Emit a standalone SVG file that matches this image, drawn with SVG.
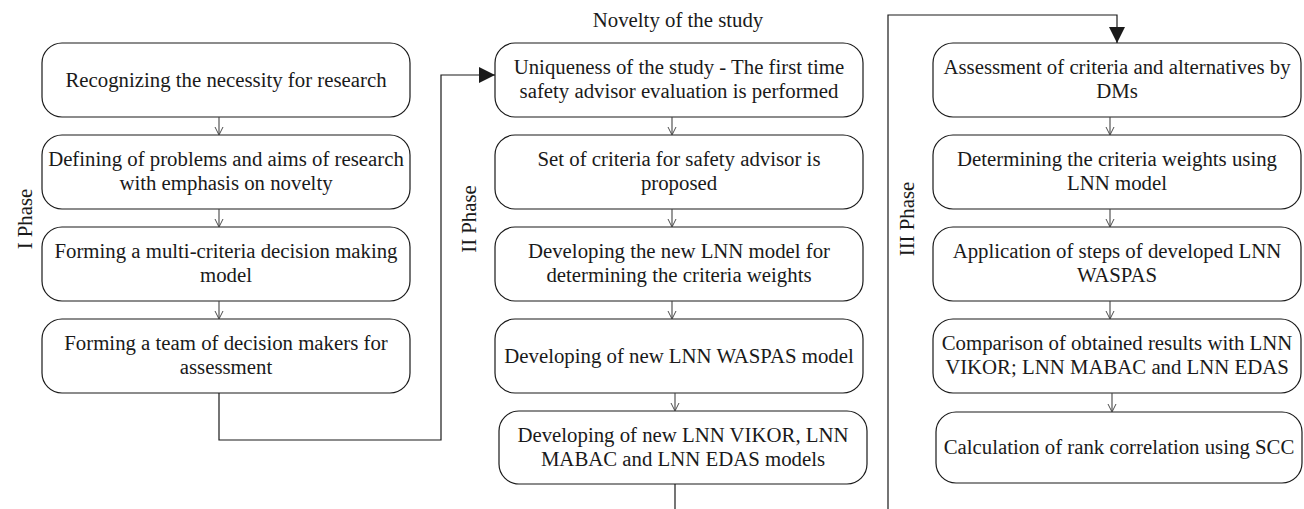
<svg xmlns="http://www.w3.org/2000/svg" width="1304" height="509" viewBox="0 0 1304 509" font-family="'Liberation Serif', 'Times New Roman', serif" font-size="20">
  <style>
    .nd { fill: #ffffff; stroke: #1a1a1a; stroke-width: 1.2; }
    .t { font-family: "Liberation Serif", "Times New Roman", serif; font-size: 20.8px; fill: #1a1a1a; text-anchor: middle; }
    .step { stroke: #444; stroke-width: 1.1; fill: none; }
    .link { stroke: #1a1a1a; stroke-width: 1.2; fill: none; }
  </style>
  <defs>
    <marker id="open" viewBox="0 0 10 10" refX="10" refY="5" markerUnits="userSpaceOnUse" markerWidth="8" markerHeight="14" orient="auto">
      <path d="M0,0 L10,5 L0,10" fill="none" stroke="#444" stroke-width="1.2"/>
    </marker>
    <marker id="solid" viewBox="0 0 10 10" refX="10" refY="5" markerUnits="userSpaceOnUse" markerWidth="22" markerHeight="16" orient="auto">
      <path d="M0,0 L10,5 L0,10 Z" fill="#1a1a1a"/>
    </marker>
  </defs>

  <text id="title" class="t" x="678" y="27">Novelty of the study</text>

  <g id="labels">
    <text transform="translate(32,219) rotate(-90)" class="t">I Phase</text>
    <text transform="translate(476,219) rotate(-90)" class="t">II Phase</text>
    <text transform="translate(914,219) rotate(-90)" class="t">III Phase</text>
  </g>

  <!-- Phase I -->
  <g id="p1n1"><rect class="nd" x="42" y="43" width="368" height="74" rx="20"/>
    <text class="t" x="226" y="87">Recognizing the necessity for research</text></g>
  <g id="p1n2"><rect class="nd" x="42" y="135" width="368" height="74" rx="20"/>
    <text class="t" x="226" y="166">Defining of problems and aims of research</text>
    <text class="t" x="226" y="190">with emphasis on novelty</text></g>
  <g id="p1n3"><rect class="nd" x="42" y="227" width="368" height="74" rx="20"/>
    <text class="t" x="226" y="258">Forming a multi-criteria decision making</text>
    <text class="t" x="226" y="282">model</text></g>
  <g id="p1n4"><rect class="nd" x="42" y="319" width="368" height="74" rx="20"/>
    <text class="t" x="226" y="350">Forming a team of decision makers for</text>
    <text class="t" x="226" y="374">assessment</text></g>

  <!-- Phase II -->
  <g id="p2n1"><rect class="nd" x="495" y="43" width="368" height="74" rx="20"/>
    <text class="t" x="679" y="74">Uniqueness of the study - The first time</text>
    <text class="t" x="679" y="98">safety advisor evaluation is performed</text></g>
  <g id="p2n2"><rect class="nd" x="495" y="135" width="368" height="74" rx="20"/>
    <text class="t" x="679" y="166">Set of criteria for safety advisor is</text>
    <text class="t" x="679" y="190">proposed</text></g>
  <g id="p2n3"><rect class="nd" x="495" y="227" width="368" height="74" rx="20"/>
    <text class="t" x="679" y="258">Developing the new LNN model for</text>
    <text class="t" x="679" y="282">determining the criteria weights</text></g>
  <g id="p2n4"><rect class="nd" x="495" y="319" width="368" height="74" rx="20"/>
    <text class="t" x="679" y="363">Developing of new LNN WASPAS model</text></g>
  <g id="p2n5"><rect class="nd" x="499" y="411" width="368" height="73" rx="20"/>
    <text class="t" x="683" y="442">Developing of new LNN VIKOR, LNN</text>
    <text class="t" x="683" y="466">MABAC and LNN EDAS models</text></g>

  <!-- Phase III -->
  <g id="p3n1"><rect class="nd" x="933" y="43" width="368" height="74" rx="20"/>
    <text class="t" x="1117" y="74">Assessment of criteria and alternatives by</text>
    <text class="t" x="1117" y="98">DMs</text></g>
  <g id="p3n2"><rect class="nd" x="933" y="135" width="368" height="74" rx="20"/>
    <text class="t" x="1117" y="166">Determining the criteria weights using</text>
    <text class="t" x="1117" y="190">LNN model</text></g>
  <g id="p3n3"><rect class="nd" x="933" y="227" width="368" height="74" rx="20"/>
    <text class="t" x="1117" y="258">Application of steps of developed LNN</text>
    <text class="t" x="1117" y="282">WASPAS</text></g>
  <g id="p3n4"><rect class="nd" x="933" y="319" width="368" height="74" rx="20"/>
    <text class="t" x="1117" y="350">Comparison of obtained results with LNN</text>
    <text class="t" x="1117" y="374">VIKOR; LNN MABAC and LNN EDAS</text></g>
  <g id="p3n5"><rect class="nd" x="936" y="412" width="366" height="71" rx="20"/>
    <text class="t" x="1119" y="454">Calculation of rank correlation using SCC</text></g>

  <g id="connectors">
    <path class="step" marker-end="url(#open)" d="M219,117 V135"/>
    <path class="step" marker-end="url(#open)" d="M219,209 V227"/>
    <path class="step" marker-end="url(#open)" d="M219,301 V319"/>

    <path class="step" marker-end="url(#open)" d="M672,117 V135"/>
    <path class="step" marker-end="url(#open)" d="M672,209 V227"/>
    <path class="step" marker-end="url(#open)" d="M672,301 V319"/>
    <path class="step" marker-end="url(#open)" d="M675,393 V411"/>

    <path class="step" marker-end="url(#open)" d="M1110,117 V135"/>
    <path class="step" marker-end="url(#open)" d="M1110,209 V227"/>
    <path class="step" marker-end="url(#open)" d="M1110,301 V319"/>
    <path class="step" marker-end="url(#open)" d="M1112,393 V412"/>

    <path class="link" marker-end="url(#solid)" d="M219,393 V440 H441 V75 H495"/>
    <path class="link" d="M675,484 V509"/>
    <path class="link" marker-end="url(#solid)" d="M888,509 V15 H1117 V43"/>
  </g>
</svg>
